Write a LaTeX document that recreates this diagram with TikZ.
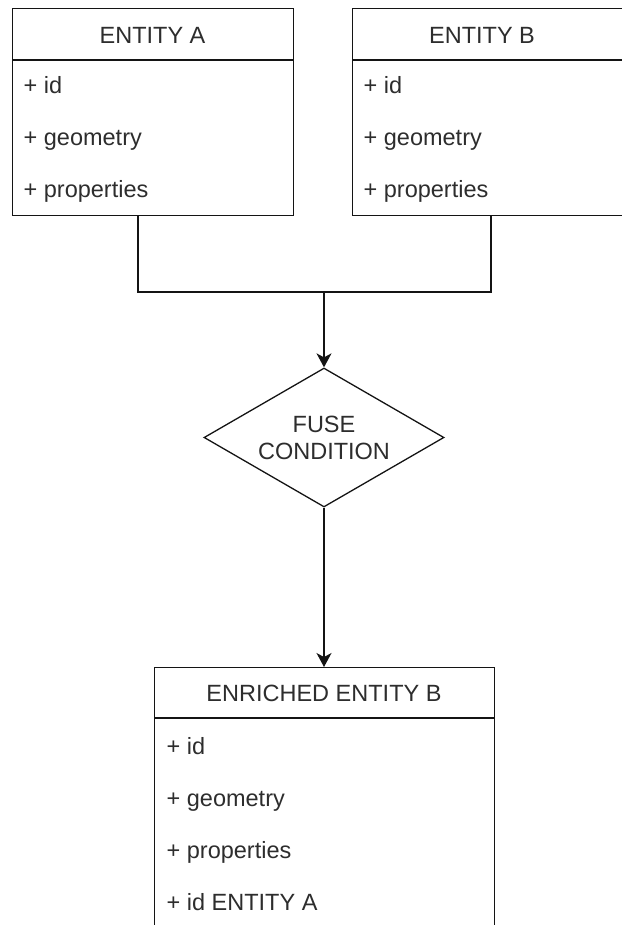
\documentclass[tikz,border=0pt]{standalone}
\usepackage{fontspec}
\setmainfont{Liberation Sans}
\usetikzlibrary{shapes.geometric,arrows.meta}
\definecolor{ink}{RGB}{20,20,20}
\definecolor{txt}{RGB}{45,45,45}
\begin{document}
\begin{tikzpicture}[x=1pt,y=-1pt,
  line width=1.3pt,
  every node/.style={text=txt,font=\fontsize{23.5}{27}\selectfont},
  classbox/.style={draw=ink,rectangle,inner sep=0pt,anchor=north west},
  field/.style={anchor=base west,inner sep=0pt},
  title/.style={anchor=base,inner sep=0pt},
  decision/.style={draw=ink,diamond,inner sep=0pt,shape aspect=1.73,
    minimum width=240pt,minimum height=139pt,align=center},
  link/.style={draw=ink},
  flow/.style={draw=ink,-{Stealth[length=14pt,width=15pt,inset=4pt]}}]
\useasboundingbox (0,0) rectangle (621,925);

% ENTITY A
\node[classbox,minimum width=281pt,minimum height=207pt] (ea) at (12,8) {};
\draw[link] (12,60) -- (293,60);
\node[title] (eat) at (152.5,43.5) {ENTITY A};
\node[field] (ea1) at (23,94) {+ id};
\node[field] (ea2) at (23,146) {+ geometry};
\node[field] (ea3) at (23,198) {+ properties};

% ENTITY B
\node[classbox,minimum width=281pt,minimum height=207pt] (eb) at (352,8) {};
\draw[link] (352,60) -- (633,60);
\node[title] (ebt) at (482,43.5) {ENTITY B};
\node[field] (eb1) at (363,94) {+ id};
\node[field] (eb2) at (363,146) {+ geometry};
\node[field] (eb3) at (363,198) {+ properties};

% fuse condition
\node[decision] (fuse) at (324,437.5) {FUSE\\CONDITION};

% ENRICHED ENTITY B
\node[classbox,minimum width=340pt,minimum height=270pt] (eeb) at (154,667) {};
\draw[link] (154,718) -- (494,718);
\node[title] (eebt) at (324,701.5) {ENRICHED ENTITY B};
\node[field] (eeb1) at (166,754) {+ id};
\node[field] (eeb2) at (166,806) {+ geometry};
\node[field] (eeb3) at (166,858) {+ properties};
\node[field] (eeb4) at (166,910) {+ id ENTITY A};

% connectors
\coordinate (ja) at (138,292);
\coordinate (jb) at (491,292);
\coordinate (jm) at (324,292);
\draw[link] (ja |- ea.south) -- (ja) -- (jb) -- (jb |- eb.south);
\draw[flow] (jm) -- (fuse.north);
\draw[flow] (fuse.south) -- (fuse.south |- eeb.north);
\end{tikzpicture}
\end{document}
